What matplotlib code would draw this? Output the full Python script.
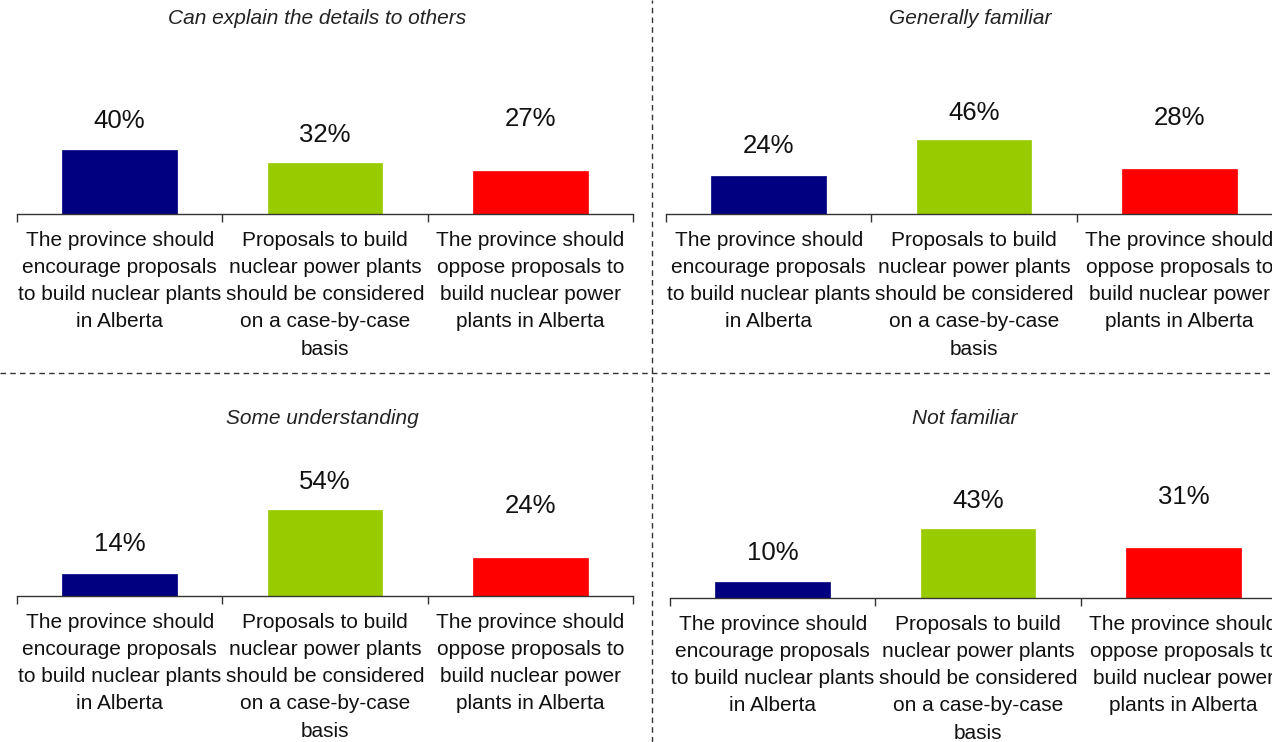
import matplotlib
matplotlib.use("Agg")
import matplotlib.pyplot as plt
from matplotlib.lines import Line2D

plt.rcParams['font.family'] = ['Liberation Sans', 'DejaVu Sans']

# Survey options (x categories)
options = [
    "The province should\nencourage proposals\nto build nuclear plants\nin Alberta",
    "Proposals to build\nnuclear power plants\nshould be considered\non a case-by-case\nbasis",
    "The province should\noppose proposals to\nbuild nuclear power\nplants in Alberta",
]
colors = ["#000080", "#99CC00", "#FF0000"]

# Familiarity groups and their shares (%)
groups = ["Can explain the details to others", "Generally familiar",
          "Some understanding", "Not familiar"]
explain = [40, 32, 27]
general = [24, 46, 28]
some = [14, 54, 24]
not_familiar = [10, 43, 31]
values = [explain, general, some, not_familiar]

# label offsets above bar top, in points
label_offsets = [21, 20, 37]

W, H = 1272, 742
fig = plt.figure(figsize=(W / 100, H / 100), dpi=100)

# panel placement in pixels: left, right, baseline y
panels = [(17, 633, 214), (666, 1282, 214), (17, 633, 596), (670, 1286, 598)]
title_pos = [(317, 19), (970, 19), (322, 419), (965, 419)]

for i, (x0, x1, base) in enumerate(panels):
    axh = 160
    ax = fig.add_axes([x0 / W, 1 - base / H, (x1 - x0) / W, axh / H])
    ax.set_xlim(-0.5, 2.5)
    ax.set_ylim(0, 100)
    bars = ax.bar(range(3), values[i], width=0.56, color=colors,
                  edgecolor=colors, linewidth=0.5)
    for j, b in enumerate(bars):
        ax.annotate("%d%%" % values[i][j],
                    (b.get_x() + b.get_width() / 2, b.get_height()),
                    xytext=(0, label_offsets[j]), textcoords="offset points",
                    ha="center", va="center", fontsize=18.5, color="#111111",
                    annotation_clip=False)
    for s in ["top", "left", "right"]:
        ax.spines[s].set_visible(False)
    ax.spines["bottom"].set_color("#333333")
    ax.spines["bottom"].set_linewidth(1.0)
    ax.set_yticks([])
    ax.set_xticks(range(3))
    ax.set_xticklabels(options, fontsize=15, color="#111111", linespacing=1.55)
    ax.tick_params(axis="x", which="major", length=0, pad=12)
    ax.set_xticks([-0.5, 0.5, 1.5, 2.5], minor=True)
    ax.tick_params(axis="x", which="minor", length=6, color="#333333", width=1.0)
    ax.patch.set_alpha(0)
    tx, ty = title_pos[i]
    fig.text(tx / W, 1 - ty / H, groups[i], ha="center", va="center",
             fontsize=15, style="italic", color="#222222")

# dashed separators between panels
fig.add_artist(Line2D([652 / W, 652 / W], [0, 1], color="#333333",
                      linewidth=1.0, linestyle=(0, (4, 3))))
fig.add_artist(Line2D([0, 1], [1 - 373 / H, 1 - 373 / H], color="#333333",
                      linewidth=1.0, linestyle=(0, (4, 3))))

fig.savefig("out.png", dpi=100)
